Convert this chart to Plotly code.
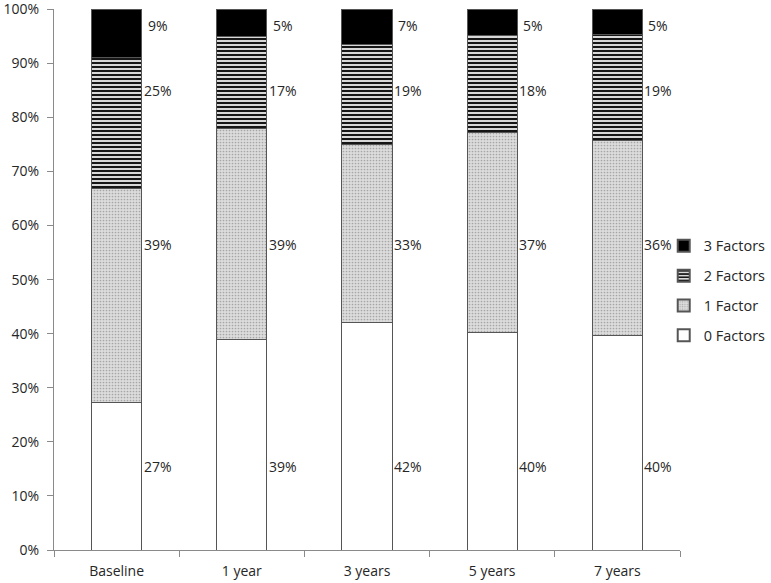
import plotly.graph_objects as go

categories = ["Baseline", "1 year", "3 years", "5 years", "7 years"]
zero_factors = [27.3, 39.0, 42.0, 40.2, 39.6]
one_factor = [39.5, 39.0, 33.0, 37.0, 36.2]
two_factors = [24.3, 17.0, 18.5, 18.0, 19.5]
three_factors = [8.9, 5.0, 6.5, 4.8, 4.7]
label_texts = {
    "0 Factors": ["27%", "39%", "42%", "40%", "40%"],
    "1 Factor": ["39%", "39%", "33%", "37%", "36%"],
    "2 Factors": ["25%", "17%", "19%", "18%", "19%"],
    "3 Factors": ["9%", "5%", "7%", "5%", "5%"],
}
y_ticks = [0, 10, 20, 30, 40, 50, 60, 70, 80, 90, 100]
y_tick_labels = ["0%", "10%", "20%", "30%", "40%", "50%", "60%", "70%", "80%", "90%", "100%"]

FONT = "Open Sans"
TXT = "#262626"
outline = dict(color="#555555", width=1)
BW = 0.4

fig = go.Figure()
fig.add_trace(go.Bar(name="0 Factors", x=categories, y=zero_factors,
                     legendgroup="g0", legendrank=4,
                     marker=dict(color="white", line=outline), width=BW))
fig.add_trace(go.Bar(name="1 Factor", x=categories, y=one_factor,
                     legendgroup="g1", legendrank=3,
                     marker=dict(color="#d8d8d8", line=outline,
                                 pattern=dict(shape=".", size=3, solidity=0.25,
                                              fgcolor="#a6a6a6", bgcolor="#dcdcdc",
                                              fillmode="replace")), width=BW))
fig.add_trace(go.Bar(name="2 Factors", x=categories, y=two_factors,
                     legendgroup="g2", legendrank=2,
                     marker=dict(color="white", line=outline,
                                 pattern=dict(shape="-", size=4, solidity=0.45,
                                              fgcolor="#000000", bgcolor="#d8d8d8",
                                              fillmode="replace")), width=BW))
fig.add_trace(go.Bar(name="3 Factors", x=categories, y=three_factors,
                     legendgroup="g3", legendrank=1,
                     marker=dict(color="black", line=outline), width=BW))

# data labels to the right of each bar
series = [("0 Factors", zero_factors), ("1 Factor", one_factor),
          ("2 Factors", two_factors), ("3 Factors", three_factors)]
label_levels = {"0 Factors": 15.5, "1 Factor": 56.5, "2 Factors": 85, "3 Factors": 97}
for name, vals in series:
    for i, c in enumerate(categories):
        fig.add_annotation(x=i, y=label_levels[name], xref="x", yref="y",
                           text=label_texts[name][i], showarrow=False,
                           xanchor="center", yanchor="middle", xshift=41,
                           font=dict(family=FONT, size=14, color=TXT))

fig.update_layout(
    barmode="stack",
    width=771, height=583,
    margin=dict(l=54, r=91, t=9, b=33, autoexpand=False),
    plot_bgcolor="white", paper_bgcolor="white",
    font=dict(family=FONT, size=14, color=TXT),
    showlegend=True,
    legend=dict(x=0.974, xanchor="left", y=0.479, yanchor="middle",
                traceorder="grouped", font=dict(family=FONT, size=14.5, color=TXT),
                itemwidth=30, tracegroupgap=8, bgcolor="rgba(0,0,0,0)",
                itemsizing="constant"),
    xaxis=dict(showline=True, linecolor="#8a8a8a", linewidth=1,
               ticks="outside", tickson="boundaries", ticklen=6, tickcolor="#8a8a8a",
               ticklabelstandoff=8,
               showgrid=False, tickfont=dict(size=14), automargin=False),
    yaxis=dict(range=[0, 100.05], tickmode="array", tickvals=y_ticks, ticktext=y_tick_labels,
               showline=True, linecolor="#8a8a8a", linewidth=1,
               ticks="outside", ticklen=6, tickcolor="#8a8a8a", ticklabeloverflow="allow",
               ticklabelstandoff=5,
               showgrid=False, zeroline=False, tickfont=dict(size=14), automargin=False),
)

# remove the browser's default 8px body margin so the 771x583 figure fills the window
fig.write_html("out.html", config={"displayModeBar": False},
               post_script="document.body.style.margin='0';document.body.style.overflow='hidden';")
